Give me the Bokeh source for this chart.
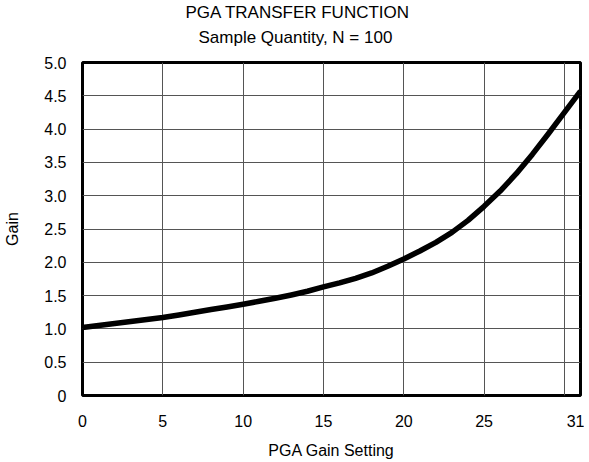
from bokeh.plotting import figure
from bokeh.models import FixedTicker, Title
from bokeh.embed import file_html
from bokeh.resources import INLINE

# Data
gain_setting = list(range(0, 32))
gain = [1.02, 1.05, 1.08, 1.11, 1.14, 1.17, 1.21, 1.25, 1.29, 1.33,
        1.37, 1.415, 1.46, 1.51, 1.565, 1.63, 1.69, 1.76, 1.84, 1.94,
        2.05, 2.17, 2.30, 2.45, 2.63, 2.84, 3.07, 3.33, 3.62, 3.93,
        4.25, 4.57]
x_ticks = [0, 5, 10, 15, 20, 25, 31]
x_grid = [0, 5, 10, 15, 20, 25, 30]
y_ticks = [0, 0.5, 1.0, 1.5, 2.0, 2.5, 3.0, 3.5, 4.0, 4.5, 5.0]
y_labels = {0: "0", 0.5: "0.5", 1.0: "1.0", 1.5: "1.5", 2.0: "2.0", 2.5: "2.5",
            3.0: "3.0", 3.5: "3.5", 4.0: "4.0", 4.5: "4.5", 5.0: "5.0"}

FONT = "Liberation Sans"

p = figure(width=584, height=461, output_backend="svg", toolbar_location=None,
           x_range=(0, 31), y_range=(0, 5.0),
           min_border_left=82, min_border_right=4, min_border_top=60, min_border_bottom=66)

p.title.text = "PGA TRANSFER FUNCTION"
p.title.align = "left"
p.title.offset = 103
p.title.text_font = FONT
p.title.text_font_size = "17px"
p.title.text_font_style = "normal"
p.title.text_color = "black"
p.title.standoff = 0

# spacer between the frame and the subtitle
p.add_layout(Title(text=" ", text_font_size="1px", standoff=8), "above")
p.add_layout(Title(text="Sample Quantity, N = 100", align="left", offset=116,
                   text_font=FONT, text_font_size="17px", text_font_style="normal",
                   text_color="black", standoff=9), "above")

p.line(gain_setting, gain, line_width=5.5, line_color="black", line_join="round")

p.xaxis.ticker = FixedTicker(ticks=x_ticks)
p.yaxis.ticker = FixedTicker(ticks=y_ticks)
p.yaxis.major_label_overrides = y_labels
p.xgrid.ticker = FixedTicker(ticks=x_grid)
p.ygrid.ticker = FixedTicker(ticks=y_ticks)

for g in (p.xgrid, p.ygrid):
    g.grid_line_color = "#555555"
    g.grid_line_width = 1
    g.grid_line_alpha = 1.0

for ax in (p.xaxis, p.yaxis):
    ax.axis_line_color = None
    ax.major_tick_line_color = None
    ax.minor_tick_line_color = None
    ax.major_tick_out = 0
    ax.major_tick_in = 0
    ax.major_label_text_font = FONT
    ax.major_label_text_font_size = "16px"
    ax.major_label_text_color = "black"
    ax.axis_label_text_font = FONT
    ax.axis_label_text_font_size = "16px"
    ax.axis_label_text_font_style = "normal"
    ax.axis_label_text_color = "black"

p.xaxis.axis_label = "PGA Gain Setting"
p.yaxis.axis_label = "Gain"
p.xaxis.major_label_standoff = 19
p.yaxis.major_label_standoff = 16
p.xaxis.axis_label_standoff = 12
p.yaxis.axis_label_standoff = 20

p.outline_line_color = "black"
p.outline_line_width = 3
p.background_fill_color = "white"
p.border_fill_color = "white"

open("out.html", "w").write(file_html(p, INLINE))
